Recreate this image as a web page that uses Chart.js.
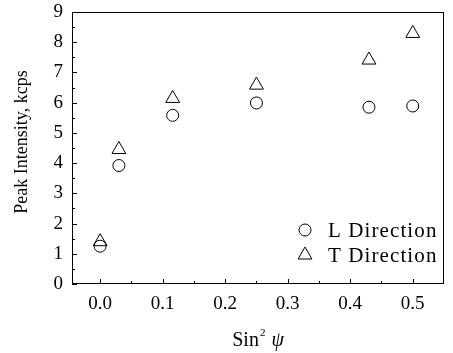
<!DOCTYPE html>
<html>
<head>
<meta charset="utf-8">
<script src="https://cdn.jsdelivr.net/npm/chart.js@4.4.0/dist/chart.umd.min.js"></script>
<style>
  html, body { margin: 0; padding: 0; background: #fff; }
  #wrap { width: 453px; height: 353px; }
</style>
</head>
<body>
<div id="wrap"><canvas id="chart" width="453" height="353"></canvas></div>
<script>
// data
const sin2psi = [0.0, 0.03, 0.116, 0.25, 0.43, 0.5];
const lDirection = [1.25, 3.92, 5.58, 5.99, 5.85, 5.89];
const tDirection = [1.40, 4.45, 6.14, 6.58, 7.41, 8.29];
const xTicks = [0.0, 0.1, 0.2, 0.3, 0.4, 0.5];
const yTicks = [0, 1, 2, 3, 4, 5, 6, 7, 8, 9];

const font = 'Liberation Serif';

const toPoints = (xs, ys) => xs.map((x, i) => ({ x: x, y: ys[i] }));

// box round the plot, inward ticks, axis titles, legend inside
const framePlugin = {
  id: 'frame',
  afterDraw(chart) {
    const { ctx, chartArea: a, scales } = chart;
    const x = scales.x, y = scales.y;
    ctx.save();
    ctx.strokeStyle = '#000';
    ctx.lineWidth = 1;
    ctx.strokeRect(a.left + 0.5, a.top + 0.5, a.right - a.left - 1, a.bottom - a.top - 1);

    ctx.beginPath();
    // y ticks
    for (let v = 0; v <= 9; v += 0.5) {
      const py = Math.round(y.getPixelForValue(v)) + 0.5;
      const len = (v % 1 === 0) ? 5 : 3;
      ctx.moveTo(a.left, py);
      ctx.lineTo(a.left + len, py);
    }
    // x ticks
    for (let v = 0; v <= 0.5001; v += 0.05) {
      const px = Math.round(x.getPixelForValue(v)) + 0.5;
      const major = Math.abs(v * 10 - Math.round(v * 10)) < 1e-6;
      ctx.moveTo(px, a.bottom);
      ctx.lineTo(px, a.bottom - (major ? 5 : 3));
    }
    ctx.stroke();

    ctx.fillStyle = '#000';

    // y axis title
    ctx.save();
    ctx.translate(22, 142);
    ctx.rotate(-Math.PI / 2);
    ctx.font = '18px "' + font + '"';
    ctx.textAlign = 'center';
    ctx.textBaseline = 'middle';
    ctx.fillText('Peak Intensity, kcps', 0, 0);
    ctx.restore();

    // x axis title: Sin² ψ
    ctx.textBaseline = 'alphabetic';
    const cx = (a.left + a.right) / 2;
    const base = 346;
    ctx.font = '20px "' + font + '"';
    const w1 = ctx.measureText('Sin').width;
    ctx.font = '11px "' + font + '"';
    const w2 = ctx.measureText('2').width;
    ctx.font = 'italic 20px "' + font + '"';
    const w3 = ctx.measureText('ψ').width;
    const gap = 7;
    let sx = cx - (w1 + w2 + gap + w3) / 2;
    ctx.font = '20px "' + font + '"';
    ctx.fillText('Sin', sx, base);
    ctx.font = '11px "' + font + '"';
    ctx.fillText('2', sx + w1 + 1, base - 10);
    ctx.font = 'italic 20px "' + font + '"';
    ctx.fillText('ψ', sx + w1 + w2 + gap, base);

    // legend
    const rows = [230, 255];
    chart.data.datasets.forEach((ds, i) => {
      ctx.fillStyle = 'rgba(0,0,0,0)';
      Chart.helpers.drawPoint(ctx, {
        pointStyle: ds.pointStyle,
        radius: ds.pointRadius,
        borderWidth: 1
      }, 305, rows[i]);
      ctx.fillStyle = '#000';
      ctx.font = '21px "' + font + '"';
      ctx.letterSpacing = '1.1px';
      ctx.textBaseline = 'middle';
      ctx.fillText(ds.label, 328, rows[i] + 1);
      ctx.letterSpacing = '0px';
    });
    ctx.restore();
  }
};

new Chart(document.getElementById('chart'), {
  type: 'scatter',
  data: {
    datasets: [
      {
        label: 'L Direction',
        data: toPoints(sin2psi, lDirection),
        pointStyle: 'circle',
        pointRadius: 6,
        pointBorderWidth: 1,
        borderColor: '#000',
        backgroundColor: 'rgba(0,0,0,0)'
      },
      {
        label: 'T Direction',
        data: toPoints(sin2psi, tDirection),
        pointStyle: 'triangle',
        pointRadius: 8,
        pointBorderWidth: 1,
        borderColor: '#000',
        backgroundColor: 'rgba(0,0,0,0)'
      }
    ]
  },
  options: {
    responsive: false,
    animation: false,
    events: [],
    layout: { padding: { left: 0, right: 4, top: 12, bottom: 0 } },
    plugins: {
      legend: { display: false },
      tooltip: { enabled: false }
    },
    scales: {
      x: {
        type: 'linear',
        min: -0.045,
        max: 0.55,
        afterBuildTicks: (scale) => { scale.ticks = xTicks.map(v => ({ value: v })); },
        afterFit: (scale) => { scale.height = 69; scale.paddingLeft = 0; scale.paddingRight = 0; },
        grid: { display: false, drawTicks: false },
        border: { display: false },
        ticks: {
          color: '#000',
          padding: 9,
          maxRotation: 0,
          font: { family: font, size: 19 },
          callback: (v) => v.toFixed(1)
        }
      },
      y: {
        type: 'linear',
        min: 0,
        max: 9,
        afterBuildTicks: (scale) => { scale.ticks = yTicks.map(v => ({ value: v })); },
        afterFit: (scale) => { scale.width = 72; scale.paddingTop = 0; scale.paddingBottom = 0; },
        grid: { display: false, drawTicks: false },
        border: { display: false },
        ticks: {
          color: '#000',
          padding: 9,
          font: { family: font, size: 19 }
        }
      }
    }
  },
  plugins: [framePlugin]
});
</script>
</body>
</html>
